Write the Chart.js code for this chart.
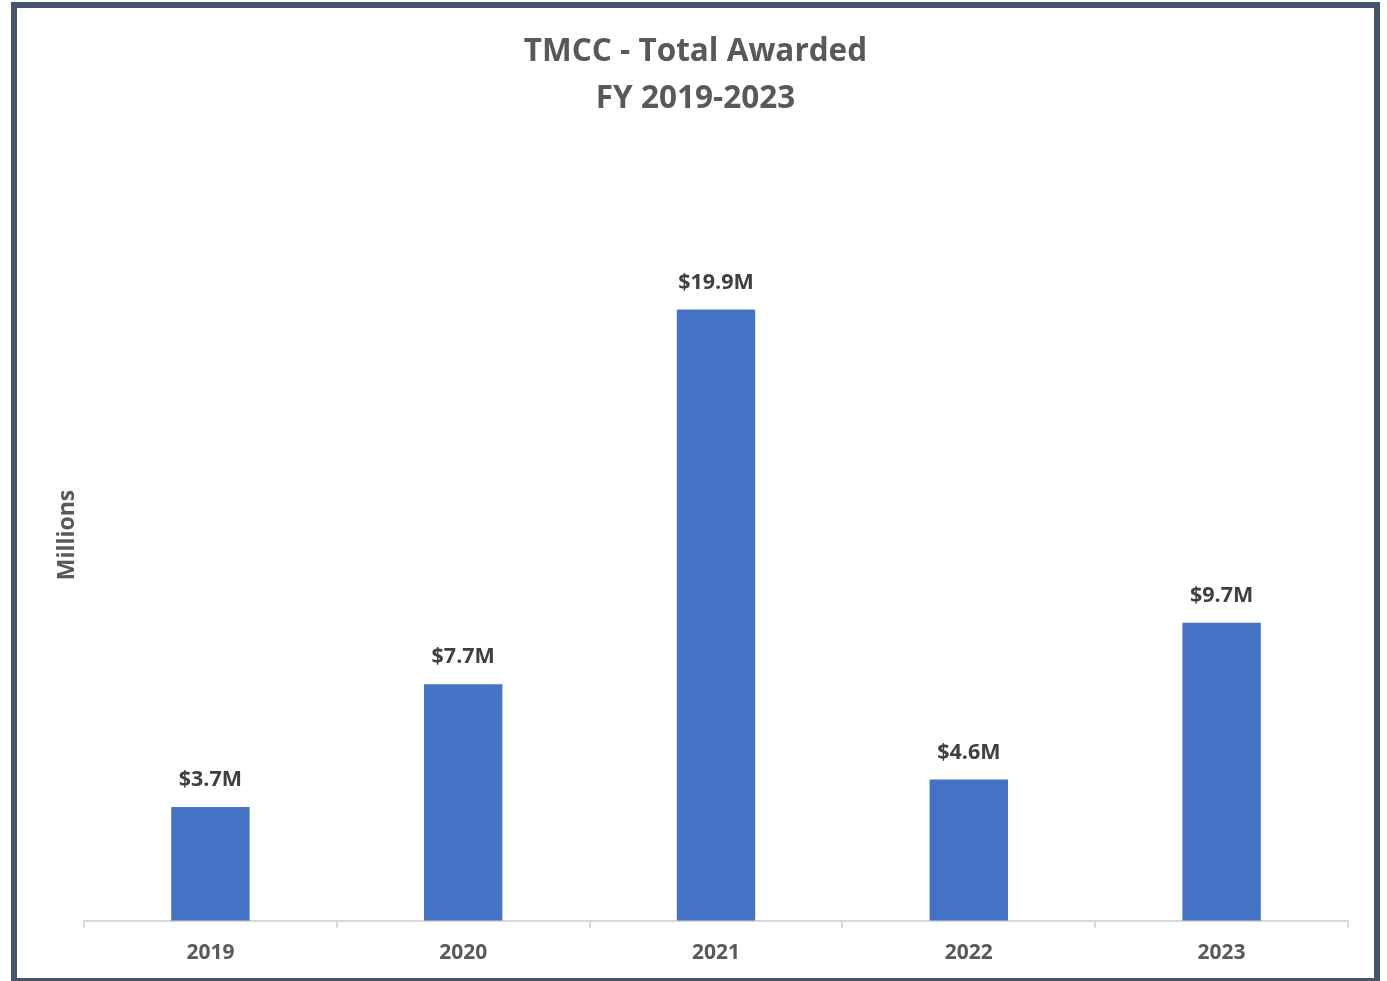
<!DOCTYPE html>
<html>
<head>
<meta charset="utf-8">
<title>TMCC - Total Awarded</title>
<script src="https://cdn.jsdelivr.net/npm/chart.js@4.4.1/dist/chart.umd.min.js"></script>
<style>
  html, body { margin: 0; padding: 0; background: #fff; }
  .frame {
    position: absolute; left: 11px; top: 2px;
    width: 1357px; height: 970px;
    border: 6px solid #44546a;
    background: #fff;
  }
  .chart-box { position: absolute; left: 0; top: 0; width: 1357px; height: 975px; }
</style>
</head>
<body>
<div class="frame">
  <div class="chart-box"><canvas id="chart"></canvas></div>
</div>
<script>
// data
const years = ['2019', '2020', '2021', '2022', '2023'];
const awarded = [3.7, 7.7, 19.9, 4.6, 9.7];
const awardLabels = ['$3.7M', '$7.7M', '$19.9M', '$4.6M', '$9.7M'];
const yAxisTitle = 'Millions';

const fontFamily = "'Open Sans', 'Liberation Sans', sans-serif";

// value labels above each bar + rotated y axis title
const barLabels = {
  id: 'barLabels',
  afterDatasetsDraw(chart) {
    const ctx = chart.ctx;
    const meta = chart.getDatasetMeta(0);
    ctx.save();
    ctx.font = `bold 21.5px ${fontFamily}`;
    ctx.fillStyle = '#404040';
    ctx.textAlign = 'center';
    ctx.textBaseline = 'middle';
    meta.data.forEach((bar, i) => {
      ctx.fillText(awardLabels[i], bar.x, bar.y - 27);
    });

    // y title, sits a bit above the middle of the plot like the original
    const area = chart.chartArea;
    ctx.translate(area.left - 17, 527);
    ctx.rotate(-Math.PI / 2);
    ctx.font = `bold 23px ${fontFamily}`;
    ctx.fillStyle = '#595959';
    ctx.fillText(yAxisTitle, 0, 0);
    ctx.restore();
  }
};

const ctx = document.getElementById('chart').getContext('2d');
new Chart(ctx, {
  type: 'bar',
  data: {
    labels: years,
    datasets: [{
      data: awarded,
      backgroundColor: '#4472c4',
      barPercentage: 0.31,
      categoryPercentage: 1
    }]
  },
  options: {
    responsive: true,
    maintainAspectRatio: false,
    animation: false,
    layout: { padding: { left: 26, right: 26, top: 0, bottom: 4 } },
    plugins: {
      legend: { display: false },
      tooltip: { enabled: false },
      title: {
        display: true,
        text: ['TMCC - Total Awarded', 'FY 2019-2023'],
        color: '#595959',
        font: { family: fontFamily, size: 31.5, weight: 'bold', lineHeight: 1.49 },
        padding: { top: 20.5, bottom: 122.5 }
      }
    },
    scales: {
      x: {
        grid: {
          display: true,
          drawOnChartArea: false,
          drawTicks: true,
          tickLength: 7,
          color: '#d9d9d9',
          lineWidth: 2
        },
        border: { display: true, color: '#d9d9d9', width: 2 },
        ticks: {
          color: '#595959',
          padding: 13,
          font: { family: fontFamily, size: 21, weight: 'bold' }
        }
      },
      y: {
        display: true,
        min: 0,
        max: 22,
        grid: { display: false },
        border: { display: false },
        ticks: { display: false },
        afterFit(scale) { scale.width = 41; }
      }
    }
  },
  plugins: [barLabels]
});
</script>
</body>
</html>
